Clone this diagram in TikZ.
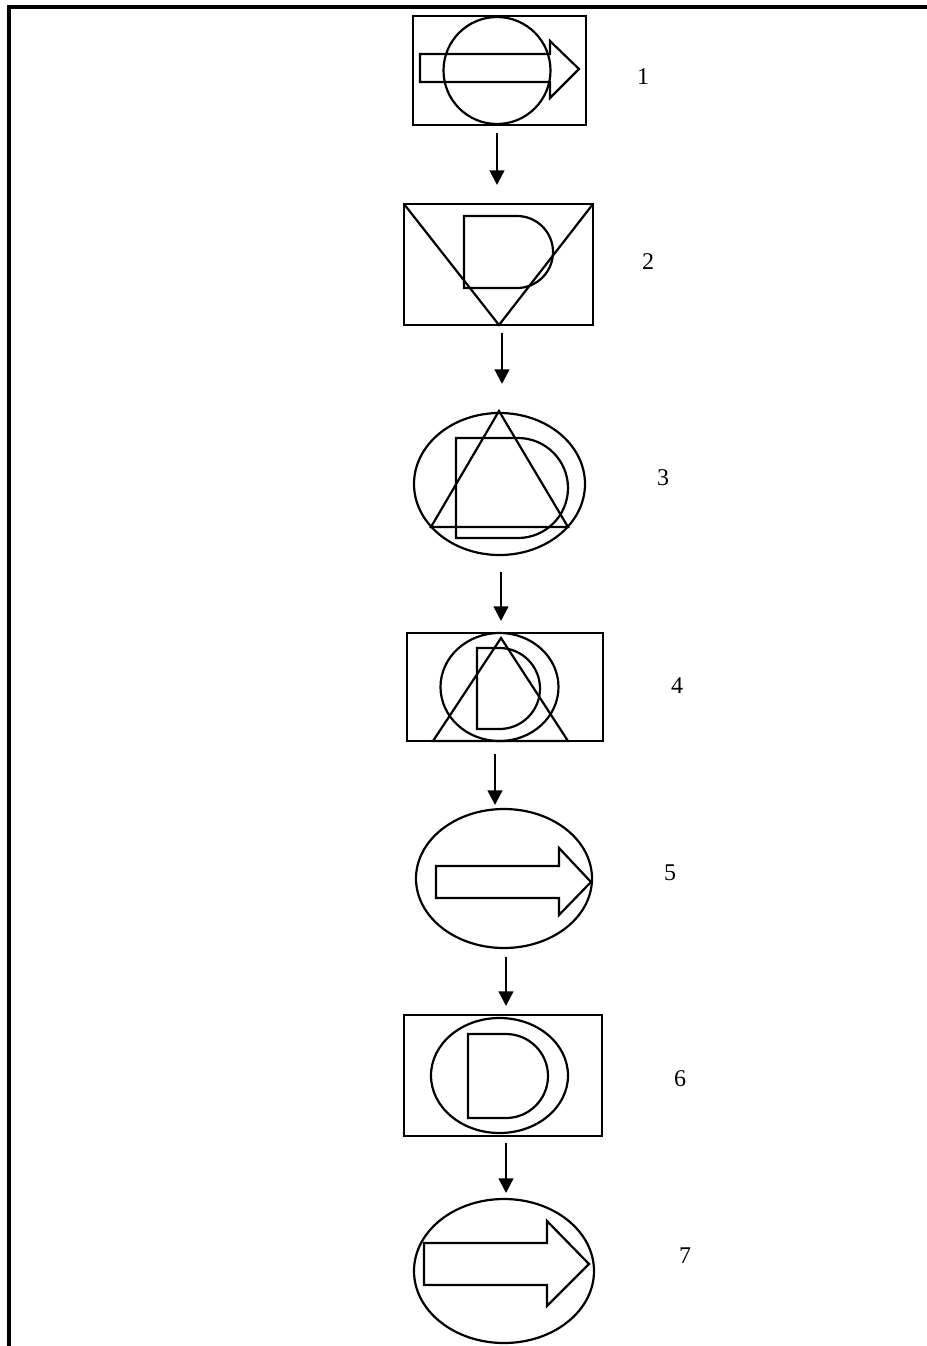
\documentclass[tikz,border=0pt]{standalone}
\usepackage{fontspec}
\setmainfont{Liberation Serif}
\usetikzlibrary{arrows.meta}
\begin{document}
\begin{tikzpicture}[x=0.75pt,y=-0.75pt,
  shape line/.style={draw=black,line width=1.65pt,line join=miter},
  frame line/.style={draw=black,line width=2.3pt},
  flow/.style={draw=black,line width=1.65pt,-{Triangle[length=11pt,width=11pt]}},
  tag/.style={font=\fontsize{18}{20}\selectfont,inner sep=0pt}]
\useasboundingbox (0,0) rectangle (927,1346);

% page frame (top and left edges)
\draw[frame line] (9,1346) -- (9,7) -- (927,7);

% ---- stage 1: box, circle, block arrow
\draw[shape line] (413,16) rectangle (586,125);
\draw[shape line] (497,70.5) circle[radius=53.5];
\draw[shape line] (420,54) -- (550,54) -- (550,41) -- (579,69) -- (550,98) -- (550,82) -- (420,82) -- cycle;
\node[tag] (t1) at (643,77) {1};

% ---- stage 2: box, inverted triangle, D
\draw[shape line] (404,204) rectangle (593,325);
\draw[shape line] (404,204) -- (499,325) -- (593,204);
\draw[shape line] (464,216) -- (517,216) arc[start angle=-90,end angle=90,radius=36] -- (464,288) -- cycle;
\node[tag] (t2) at (648,262) {2};

% ---- stage 3: ellipse, triangle, D
\draw[shape line] (499.5,484) ellipse[x radius=85.5,y radius=71];
\draw[shape line] (499,411) -- (568,527) -- (431,527) -- cycle;
\draw[shape line] (456,438) -- (518,438) arc[start angle=-90,end angle=90,radius=50] -- (456,538) -- cycle;
\node[tag] (t3) at (663,478) {3};

% ---- stage 4: box, ellipse, triangle, D
\draw[shape line] (407,633) rectangle (603,741);
\draw[shape line] (499.5,687) ellipse[x radius=59,y radius=54];
\draw[shape line] (501,638) -- (568,741) -- (433,741) -- cycle;
\draw[shape line] (477,648) -- (499.5,648) arc[start angle=-90,end angle=90,radius=40.5] -- (477,729) -- cycle;
\node[tag] (t4) at (677,686) {4};

% ---- stage 5: ellipse, block arrow
\draw[shape line] (504,878.5) ellipse[x radius=88,y radius=69.5];
\draw[shape line] (436,866) -- (559,866) -- (559,848) -- (591,882) -- (559,915) -- (559,898) -- (436,898) -- cycle;
\node[tag] (t5) at (670,873) {5};

% ---- stage 6: box, ellipse, D
\draw[shape line] (404,1015) rectangle (602,1136);
\draw[shape line] (499.5,1075.5) ellipse[x radius=68.5,y radius=57.5];
\draw[shape line] (468,1034) -- (506,1034) arc[start angle=-90,end angle=90,radius=42] -- (468,1118) -- cycle;
\node[tag] (t6) at (680,1079) {6};

% ---- stage 7: ellipse, block arrow
\draw[shape line] (504,1271) ellipse[x radius=90,y radius=72];
\draw[shape line] (424,1243) -- (547,1243) -- (547,1221) -- (589,1264) -- (547,1306) -- (547,1285) -- (424,1285) -- cycle;
\node[tag] (t7) at (685,1256) {7};

% ---- connectors between stages
\coordinate (a1s) at (497,133);  \coordinate (a1e) at (497,185);
\coordinate (a2s) at (502,333);  \coordinate (a2e) at (502,384);
\coordinate (a3s) at (501,572);  \coordinate (a3e) at (501,621);
\coordinate (a4s) at (495,754);  \coordinate (a4e) at (495,805);
\coordinate (a5s) at (506,957);  \coordinate (a5e) at (506,1006);
\coordinate (a6s) at (506,1143); \coordinate (a6e) at (506,1193);
\draw[flow] (a1s) -- (a1e);
\draw[flow] (a2s) -- (a2e);
\draw[flow] (a3s) -- (a3e);
\draw[flow] (a4s) -- (a4e);
\draw[flow] (a5s) -- (a5e);
\draw[flow] (a6s) -- (a6e);
\end{tikzpicture}
\end{document}
